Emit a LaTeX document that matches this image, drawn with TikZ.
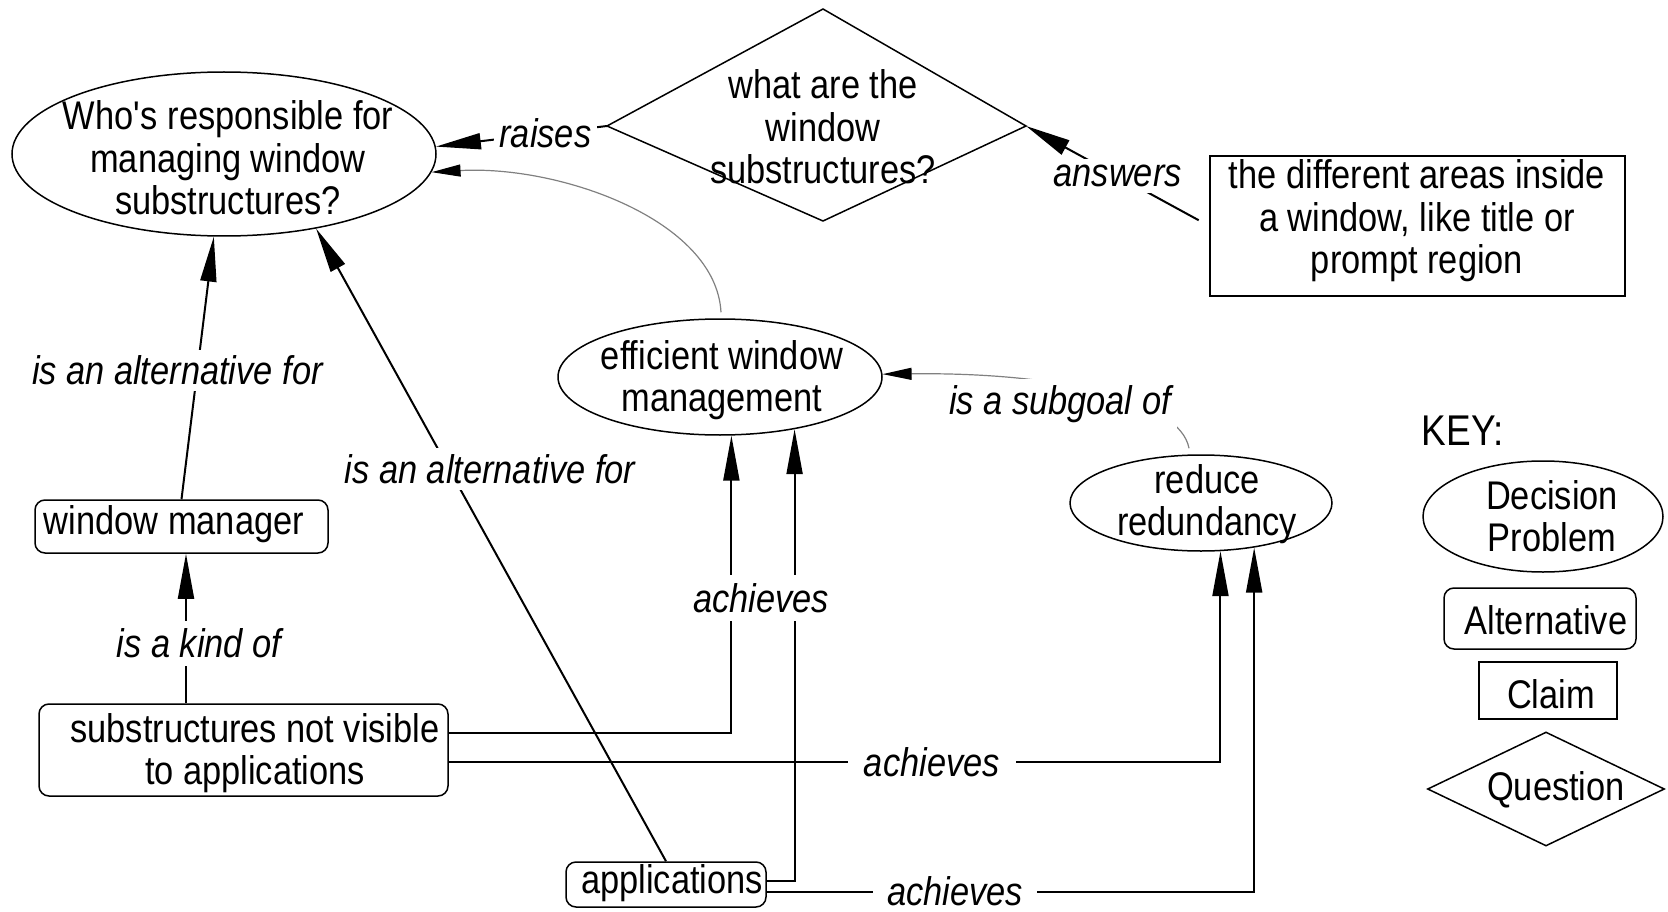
\documentclass[tikz,border=0pt]{standalone}
\usepackage{fontspec}
\setmainfont{Liberation Sans}[FakeStretch=0.86]
\usetikzlibrary{shapes.geometric,arrows.meta,calc}
\begin{document}
\begin{tikzpicture}[x=1pt,y=-1pt,
  every node/.style={font=\fontsize{40}{42.5}\selectfont, inner sep=0pt},
  txt/.style={align=center},
  outline/.style={line width=1.5pt},
  ell/.style={draw, ellipse, outline},
  rbox/.style={draw, rectangle, rounded corners=10pt, outline},
  sbox/.style={draw, rectangle, outline},
  dia/.style={draw, diamond, outline},
  conn/.style={line width=2pt, -{Triangle[length=45pt,width=16pt]}},
  soft/.style={line width=1.2pt, draw=gray, -{Triangle[length=29pt,width=12pt,color=black]}},
  lbl/.style={fill=white, font=\fontsize{40}{42.5}\selectfont\itshape, inner xsep=6pt, inner ysep=6pt},
]
\useasboundingbox (0,0) rectangle (1668,912);

% shapes
\node[ell, minimum width=424pt, minimum height=164pt] (d1) at (224,154) {};
\node[txt] (d1t) at (228,158) {Who\textquotesingle s responsible for\\managing window\\substructures?};

\coordinate (q1n) at (823,9);
\coordinate (q1e) at (1026,126);
\coordinate (q1s) at (823,221);
\coordinate (q1w) at (607,126);
\draw[outline] (q1n) -- (q1e) -- (q1s) -- (q1w) -- cycle;
\node[txt] (q1t) at (823,127) {what are the\\window\\substructures?};

\node[sbox, minimum width=415pt, minimum height=140pt] (claim1) at (1417.5,226) {};
\node[txt] (claim1t) at (1417,221) {the different areas inside\\a window, like title or\\prompt region};

\node[rbox, minimum width=293pt, minimum height=53pt] (wm) at (181.5,526.5) {};
\node[txt] (wmt) at (174,524) {window manager};

\node[rbox, minimum width=409pt, minimum height=92pt] (sub) at (243.5,750) {};
\node[txt] (subt) at (255,753) {substructures not visible\\to applications};

\node[rbox, minimum width=200pt, minimum height=45pt] (apps) at (666,884.5) {};
\node[txt] (appst) at (672,883) {applications};

\node[ell, minimum width=324pt, minimum height=116pt] (eff) at (720,377) {};
\node[txt] (efft) at (722,380) {efficient window\\management};

\node[ell, minimum width=262pt, minimum height=96pt] (red) at (1201,503) {};
\node[txt] (redt) at (1207,504) {reduce\\redundancy};

% key
\node[font=\fontsize{43}{45}\selectfont] (key) at (1463,431) {KEY:};
\node[ell, minimum width=240pt, minimum height=111pt] (kdp) at (1543,516.5) {};
\node[txt] (kdpt) at (1552,516) {Decision\\Problem};
\node[rbox, minimum width=192pt, minimum height=61pt] (kalt) at (1540,618.5) {};
\node[txt] (kaltt) at (1546,620) {Alternative};
\node[sbox, minimum width=138pt, minimum height=57pt] (kclaim) at (1548,690.5) {};
\node[txt] (kclaimt) at (1551,694) {Claim};
\node[dia, minimum width=237pt, minimum height=114pt] (kq) at (1546,789) {};
\node[txt] (kqt) at (1556,790) {Question};

% connectors
\draw[conn] (q1w) -- node[lbl, pos=0.36] {raises} (d1.2.5);
\draw[conn, shorten <=12pt] (claim1.west) -- node[lbl, pos=0.5] {answers} (q1e);
\draw[conn] (wm.north) -- node[lbl, pos=0.49, xshift=-20pt] {is an alternative for} (d1);
\coordinate (kx) at (186,0);
\draw[conn] (sub.north -| kx) -- node[lbl, pos=0.40, xshift=13pt, inner ysep=8pt] {is a kind of} (wm.south -| kx);
\draw[conn] (apps.north) -- node[lbl, pos=0.62, xshift=41pt] {is an alternative for} (d1.-39);

\coordinate (effup) at ($(eff.north)+(1,-6)$);
\draw[soft] (effup) .. controls (716,220) and (560,165) .. (d1.-5);

\coordinate (redup) at ($(red.north)+(-12,-6)$);
\draw[soft] (redup) .. controls (1180,400) and (1060,372) .. (eff.1);
\node[lbl] (sglbl) at (1060,404) {is a subgoal of};

\draw[conn] ($(sub.east)+(0,-17)$) -| (eff.-79.24);
\draw[conn] ($(apps.east)+(0,-4)$) -| (eff.-35.35);
\node[lbl, inner ysep=8pt] (ach1) at (761,598) {achieves};
\draw[conn] ($(sub.east)+(0,12)$) -| node[lbl, pos=0.313, inner xsep=16pt] {achieves} (red.-68);
\draw[conn] ($(apps.east)+(0,7)$) -| node[lbl, pos=0.193, inner xsep=14pt] {achieves} (red.-40);
\end{tikzpicture}
\end{document}
